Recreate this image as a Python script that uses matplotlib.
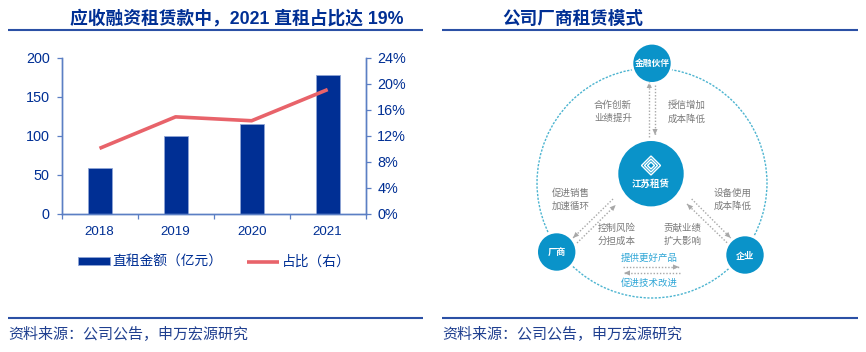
import numpy as np
import matplotlib
matplotlib.use('Agg')
import matplotlib.pyplot as plt
from matplotlib.patches import Circle, Polygon

plt.rcParams['font.family'] = ['Liberation Sans', 'Noto Sans CJK SC', 'DejaVu Sans']

# Data
years = ['2018', '2019', '2020', '2021']
amount = [58, 100, 115, 178]
share = [10.05, 14.9, 14.3, 19.1]
left_ticks = [0, 50, 100, 150, 200]
right_ticks = [0, 4, 8, 12, 16, 20, 24]

W, H = 866, 352
NAVY = '#002F94'
AXIS = '#5B7FC4'
RED = '#E8636A'
RULE = '#2B50A5'
TEAL = '#0A93C9'
RING = '#4CB4D0'
GREY = '#7A7A7A'
ARROW = '#A8A8A8'

# full-width punctuation
COMMA, COLON, LP, RP = '\uff0c', '\uff1a', '\uff08', '\uff09'


def ax_box(x0, y0, x1, y1):
    # pixel box (y from the top) to figure fractions
    return [x0 / W, 1 - y1 / H, (x1 - x0) / W, (y1 - y0) / H]


fig = plt.figure(figsize=(W / 100, H / 100), dpi=100)

# page overlay in pixel coordinates
page = fig.add_axes([0, 0, 1, 1])
page.set_xlim(0, W)
page.set_ylim(H, 0)
page.axis('off')

# headers and rules
page.text(236.5, 19, '应收融资租赁款中' + COMMA + '2021 直租占比达 19%', ha='center', va='center',
          fontsize=12.8, fontweight='bold', color=NAVY)
page.text(573, 19, '公司厂商租赁模式', ha='center', va='center',
          fontsize=12.7, fontweight='bold', color=NAVY)
for x0, x1 in [(8, 423), (442, 858)]:
    page.plot([x0, x1], [30, 30], color=RULE, lw=1.5, solid_capstyle='butt')
    page.plot([x0, x1], [318, 318], color=RULE, lw=1.5, solid_capstyle='butt')
    page.text(x0, 335, '资料来源' + COLON + '公司公告' + COMMA + '申万宏源研究', ha='left', va='center',
              fontsize=10.8, color='#1F3F8F')

# left chart
ax = fig.add_axes(ax_box(61.5, 57.7, 365.7, 213.7))
x = np.arange(len(years))
ax.bar(x, amount, width=0.316, color=NAVY, edgecolor='#8FA5D6', linewidth=0.6)
ax.set_xlim(-0.5, 3.5)
ax.set_ylim(0, 200)
ax.set_yticks(left_ticks)
ax.set_xticks(np.arange(-0.5, 4, 1))
ax.set_xticklabels([])
ax.set_xticks(x, minor=True)
ax.set_xticklabels(years, minor=True)
ax.tick_params(axis='x', which='major', direction='out', length=3.5, color=AXIS, width=0.9)
ax.tick_params(axis='x', which='minor', length=0, labelsize=9.6, labelcolor=NAVY, pad=9)
ax.tick_params(axis='y', direction='out', length=3.6, color=AXIS, width=0.9, labelsize=10.4, labelcolor=NAVY, pad=5)
ax.spines['top'].set_visible(False)
for s in ['left', 'right', 'bottom']:
    ax.spines[s].set_color(AXIS)
    ax.spines[s].set_linewidth(1)

ax2 = ax.twinx()
ax2.plot(x, share, color=RED, lw=2.6, solid_capstyle='butt')
ax2.set_ylim(0, 24)
ax2.set_yticks(right_ticks)
ax2.set_yticklabels([f'{t}%' for t in right_ticks])
ax2.tick_params(axis='y', direction='out', length=3.6, color=AXIS, width=0.9, labelsize=10.4, labelcolor=NAVY, pad=4.8)
ax2.spines['top'].set_visible(False)
for s in ['left', 'right', 'bottom']:
    ax2.spines[s].set_color(AXIS)
    ax2.spines[s].set_linewidth(1)

# legend
h1 = ax.containers[0]
h2 = ax2.get_lines()[0]
fig.legend([h1, h2], ['直租金额' + LP + '亿元' + RP, '占比' + LP + '右' + RP], loc='center', ncol=2, frameon=False,
           bbox_to_anchor=(214 / W, 1 - 262 / H), fontsize=9.9, labelcolor=NAVY,
           handlelength=2.3, handleheight=0.45, columnspacing=1.8, handletextpad=0.2,
           borderpad=0, borderaxespad=0)


# right diagram, drawn in pixels
def dotted_arrow(x0, y0, x1, y1, color=ARROW):
    page.plot([x0, x1], [y0, y1], color=color, lw=1, ls=(0, (1, 1.3)))
    a = np.arctan2(y1 - y0, x1 - x0)
    n = np.array([-np.sin(a), np.cos(a)])
    d = np.array([np.cos(a), np.sin(a)])
    tip = np.array([x1, y1], dtype=float)
    base = tip - d * 6
    page.add_patch(Polygon([tip, base + n * 2.6, base - n * 2.6], color=color, lw=0))


# dashed ring
page.add_patch(Circle((652, 183), 115, fill=False, ec=RING, lw=1, ls=(0, (1.6, 1.1)), zorder=1))

nodes = [(652, 63.3, 18.7), (556.7, 252, 18.7), (745, 255, 18.7), (651, 173.7, 32.7)]
for cx, cy, r in nodes:
    page.add_patch(Circle((cx, cy), r + 2.5, fc='white', ec='none', zorder=2))
    page.add_patch(Circle((cx, cy), r, fc=TEAL, ec='none', zorder=3))

page.text(652, 63.5, '金融伙伴', ha='center', va='center', fontsize=6.3, fontweight='bold', color='white', zorder=4)
page.text(556.7, 252.5, '厂商', ha='center', va='center', fontsize=6.6, fontweight='bold', color='white', zorder=4)
page.text(745, 255.5, '企业', ha='center', va='center', fontsize=6.6, fontweight='bold', color='white', zorder=4)
page.text(651, 184, '江苏租赁', ha='center', va='center', fontsize=6.8, fontweight='bold', color='white', zorder=4)

# logo diamond, made of nested white outlines
for half, lw in [(9.5, 1), (6.5, 1), (3.5, 1)]:
    cx, cy = 651, 165.5
    page.add_patch(Polygon([(cx, cy - half), (cx + half, cy), (cx, cy + half), (cx - half, cy)],
                           fill=False, ec='white', lw=lw, zorder=4))

labels = [
    (613, 112, '合作创新\n业绩提升'), (686.7, 112, '授信增加\n成本降低'),
    (571, 200, '促进销售\n加速循环'), (733, 200, '设备使用\n成本降低'),
    (616.7, 234.7, '控制风险\n分担成本'), (682.3, 234.7, '贡献业绩\n扩大影响'),
]
for lx, ly, s in labels:
    page.text(lx, ly, s, ha='center', va='center', fontsize=6.8, color=GREY, linespacing=1.5, zorder=4)

page.text(649.5, 258.3, '提供更好产品', ha='center', va='center', fontsize=6.8, color='#2FA6D6', zorder=4)
page.text(649.5, 283.3, '促进技术改进', ha='center', va='center', fontsize=6.8, color='#2FA6D6', zorder=4)

dotted_arrow(649.3, 136.7, 649.3, 82)
dotted_arrow(655, 85, 655, 135)
dotted_arrow(613, 199, 573, 238)
dotted_arrow(577, 243, 615.7, 205)
dotted_arrow(691.7, 199, 730.7, 238)
dotted_arrow(727, 242.7, 687, 204)
dotted_arrow(623, 267, 679, 267)
dotted_arrow(680, 273, 624, 273)

fig.savefig('out.png', dpi=100)
